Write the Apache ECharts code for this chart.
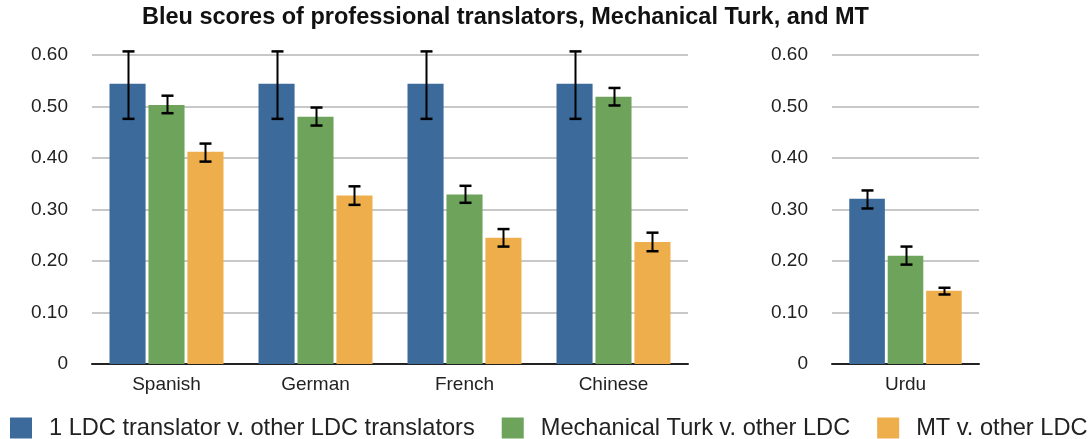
<!DOCTYPE html>
<html><head><meta charset="utf-8">
<script src="https://cdn.jsdelivr.net/npm/echarts@6/dist/echarts.min.js"></script>
<style>html,body{margin:0;padding:0;background:#fff}#c{width:1089px;height:439px}</style>
</head><body><div id="c"></div>
<script>
const categories = ['Spanish', 'German', 'French', 'Chinese'];
const categories2 = ['Urdu'];
const seriesNames = ['1 LDC translator v. other LDC translators', 'Mechanical Turk v. other LDC', 'MT v. other LDC'];
// values for left panel
const ldcVals = [0.544, 0.544, 0.544, 0.544];
const ldcLow  = [0.476, 0.476, 0.476, 0.476];
const ldcHigh = [0.607, 0.607, 0.607, 0.607];
const turkVals = [0.503, 0.480, 0.329, 0.519];
const turkLow  = [0.487, 0.463, 0.313, 0.502];
const turkHigh = [0.521, 0.498, 0.346, 0.536];
const mtVals = [0.412, 0.327, 0.245, 0.237];
const mtLow  = [0.393, 0.309, 0.228, 0.219];
const mtHigh = [0.428, 0.345, 0.262, 0.255];
// Urdu panel
const urduVals = [0.321, 0.210, 0.142];
const urduLow  = [0.302, 0.193, 0.135];
const urduHigh = [0.337, 0.228, 0.148];
const yTicks = [0, 0.1, 0.2, 0.3, 0.4, 0.5, 0.6];

const colors = ['#3c6a9b', '#6da35a', '#eeae4b'];
const catGap = 0.235, barGap = 0.08;
const font = 'Liberation Sans, Arial, Helvetica, sans-serif';

function errSeries(xi, lows, highs, idx) {
  return {
    type: 'custom', xAxisIndex: xi, yAxisIndex: xi, z: 10, silent: true,
    data: lows.map((l, i) => [i, l, highs[i]]),
    renderItem: function (params, api) {
      const ci = api.value(0);
      const lo = api.coord([ci, api.value(1)]);
      const hi = api.coord([ci, api.value(2)]);
      const band = api.size([1, 0])[0];
      const n = 3;
      const bw = band * (1 - catGap) / (n + (n - 1) * barGap);
      const off = (idx - (n - 1) / 2) * bw * (1 + barGap);
      const x = Math.round(lo[0] + off) + 0.5;
      const cap = 6;
      const st = { stroke: '#000', lineWidth: 2 };
      return { type: 'group', children: [
        { type: 'line', shape: { x1: x, y1: hi[1], x2: x, y2: lo[1] }, style: st },
        { type: 'line', shape: { x1: x - cap, y1: hi[1], x2: x + cap, y2: hi[1] }, style: { stroke: '#000', lineWidth: 2.5 } },
        { type: 'line', shape: { x1: x - cap, y1: lo[1], x2: x + cap, y2: lo[1] }, style: { stroke: '#000', lineWidth: 2.5 } }
      ]};
    }
  };
}

function yAxis(gi) {
  return {
    type: 'value', gridIndex: gi, min: 0, max: 0.6, interval: 0.1,
    axisLine: { show: false }, axisTick: { show: false },
    axisLabel: { margin: 24, fontSize: 19, color: '#222', fontFamily: font,
      formatter: v => (v === 0 ? '0' : v.toFixed(2)) },
    splitLine: { lineStyle: { color: '#c8c8c8', width: 2 } }
  };
}
function xAxis(gi, cats) {
  return {
    type: 'category', gridIndex: gi, data: cats,
    axisLine: { lineStyle: { color: '#222', width: 2 } }, axisTick: { show: false },
    axisLabel: { fontSize: 19, color: '#222', margin: 11, fontFamily: font }
  };
}

const barCommon = { type: 'bar', barCategoryGap: (catGap * 100) + '%', barGap: (barGap * 100) + '%' };
const leftData = [ldcVals, turkVals, mtVals];
const series = [];
leftData.forEach((d, i) => series.push(Object.assign({}, barCommon, {
  name: seriesNames[i], xAxisIndex: 0, yAxisIndex: 0, data: d, itemStyle: { color: colors[i] } })));
urduVals.forEach((v, i) => series.push(Object.assign({}, barCommon, {
  name: seriesNames[i], xAxisIndex: 1, yAxisIndex: 1, data: [v], itemStyle: { color: colors[i] } })));
series.push(errSeries(0, ldcLow, ldcHigh, 0));
series.push(errSeries(0, turkLow, turkHigh, 1));
series.push(errSeries(0, mtLow, mtHigh, 2));
urduVals.forEach((v, i) => series.push(errSeries(1, [urduLow[i]], [urduHigh[i]], i)));

const chart = echarts.init(document.getElementById('c'), null, { renderer: 'canvas' });
chart.setOption({
  animation: false,
  color: colors,
  title: { text: 'Bleu scores of professional translators, Mechanical Turk, and MT', left: 142, top: 6, padding: 0,
    textStyle: { fontSize: 23.5, fontWeight: 'bold', color: '#111', fontFamily: font } },
  legend: { data: seriesNames, top: 416, left: 10, padding: 0, icon: 'rect', itemWidth: 22, itemHeight: 21, itemGap: 27,
    textStyle: { fontSize: 23.6, color: '#222', fontFamily: font, padding: [0, 0, 0, 12] } },
  grid: [
    { left: 92, top: 55, width: 596, bottom: 75 },
    { left: 832, top: 55, width: 147, bottom: 75 }
  ],
  xAxis: [xAxis(0, categories), xAxis(1, categories2)],
  yAxis: [yAxis(0), yAxis(1)],
  series: series
});
</script></body></html>
